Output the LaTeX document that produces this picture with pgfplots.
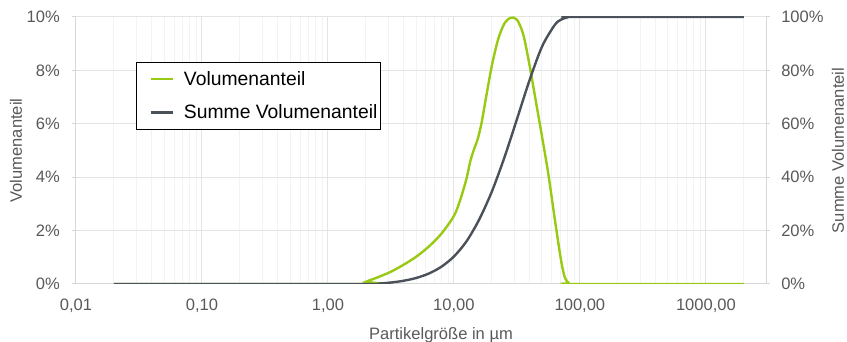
\documentclass[border=0pt]{standalone}
\usepackage{fontspec}
\setmainfont{Liberation Sans}
\usepackage{pgfplots}
\pgfplotsset{compat=1.18}
\definecolor{vgreen}{RGB}{152,202,20}
\definecolor{vdark}{RGB}{74,81,89}
\definecolor{tickgray}{RGB}{89,89,89}
\definecolor{gridmaj}{RGB}{228,228,228}
\definecolor{gridmin}{RGB}{243,243,243}
\definecolor{axgray}{RGB}{215,215,215}
\begin{document}
\begin{tikzpicture}
\begin{axis}[
  scale only axis, width=517.5pt, height=200.25pt,
  xmode=log, xmin=0.01, xmax=3000,
  tick align=outside, major tick length=3pt, minor tick length=0pt,
  tick label style={font=\fontsize{12.4}{14}\selectfont, text=tickgray},
  label style={font=\fontsize{12.4}{14}\selectfont, text=tickgray},
  axis line style={axgray, line width=0.75pt},
  ytick style={axgray, line width=0.75pt},
  xtick style={draw=none},
  name=ax,
  ymin=0, ymax=10,
  axis y line*=left, axis x line*=bottom,
  xtick={0.01,0.1,1,10,100,1000},
  xticklabels={{0,01},{0,10},{1,00},{10,00},{100,00},{1000,00}},
  minor xtick={0.02,0.03,0.04,0.05,0.06,0.07,0.08,0.09,
               0.2,0.3,0.4,0.5,0.6,0.7,0.8,0.9,
               2,3,4,5,6,7,8,9,20,30,40,50,60,70,80,90,
               200,300,400,500,600,700,800,900,2000},
  xmajorgrids, xminorgrids, ymajorgrids,
  major grid style={gridmaj, line width=0.75pt},
  minor grid style={gridmin, line width=0.75pt},
  ytick={0,2,4,6,8,10},
  yticklabels={0\%,2\%,4\%,6\%,8\%,10\%},
  yticklabel style={inner sep=0pt, anchor=east, xshift=-9pt},
  xticklabel style={inner sep=0pt, anchor=north, yshift=-7.75pt},
  ylabel={Volumenanteil},
  ylabel style={at={(axis description cs:-0.087,0.5)}, anchor=center},
  xlabel={Partikelgröße in µm},
  xlabel style={at={(axis description cs:0.529,0)}, anchor=base, yshift=-41.5pt},
  legend style={at={(axis description cs:0.087,0.831)}, anchor=north west,
    draw=black, line width=0.75pt, fill=white,
    font=\fontsize{14.5}{17}\selectfont, text=black,
    inner xsep=2.25pt, inner ysep=6.5pt, row sep=13pt, column sep=7.5pt,
    nodes={inner sep=0pt}},
  legend cell align=left,
  legend image code/.code={\path (0pt,0pt); \draw[#1] (7.5pt,0pt) -- (24pt,0pt);},
]
\addplot[vgreen, line width=1.8pt, smooth] coordinates {
(0.02,0) (1.9,0) (1.995,0.08) (2.239,0.17) (2.512,0.26) (3.162,0.46)
(3.981,0.72) (5.012,1.02) (6.310,1.40) (7.943,1.88) (10,2.55)
(11.22,3.15) (12.59,3.95) (13.49,4.6) (14.45,5.05) (15.49,5.45)
(16.60,6.05) (17.78,6.85) (19.95,8.15) (22.39,9.15) (25.12,9.75)
(28.18,9.97) (31.62,9.9) (35.48,9.35) (39.81,8.2) (44.67,6.85)
(50.12,5.5) (56.23,4.1) (63.10,2.45) (70.79,0.9) (75.86,0.25)
(81.28,0.04) (87.10,0) (2000,0)
};
\addlegendentry{Volumenanteil}
\addlegendimage{vdark, line width=1.8pt}
\addlegendentry{Summe Volumenanteil}
\end{axis}
\begin{axis}[
  scale only axis, width=517.5pt, height=200.25pt,
  xmode=log, xmin=0.01, xmax=3000,
  tick align=outside, major tick length=3pt, minor tick length=0pt,
  tick label style={font=\fontsize{12.4}{14}\selectfont, text=tickgray},
  label style={font=\fontsize{12.4}{14}\selectfont, text=tickgray},
  axis line style={axgray, line width=0.75pt},
  ytick style={axgray, line width=0.75pt},
  ymin=0, ymax=100,
  axis x line=none, axis y line*=right,
  ytick={0,20,40,60,80,100},
  yticklabels={0\%,20\%,40\%,60\%,80\%,100\%},
  yticklabel style={inner sep=0pt, anchor=west, xshift=8.25pt},
  ylabel={Summe Volumenanteil},
  ylabel style={at={(axis description cs:1.1043,0.5)}, anchor=center},
]
\addplot[vdark, line width=1.8pt, smooth] coordinates {
(0.02,0) (1.995,0) (2.512,0.15) (3.162,0.55) (3.981,1.2) (5.012,2.25)
(6.310,3.9) (7.943,6.45) (10,10.3) (12.59,16.0) (15.85,24.1)
(19.95,34.5) (25.12,47.3) (31.62,61.7) (39.81,76.3) (50.12,89.0)
(63.10,97.0) (70.79,99.0) (79.43,99.85) (89.13,100) (2000,100)
};
\end{axis}
\pgfresetboundingbox
\path ([shift={(-57pt,-43.5pt)}]ax.south west) rectangle ([shift={(60.75pt,12.75pt)}]ax.north east);
\end{tikzpicture}
\end{document}
